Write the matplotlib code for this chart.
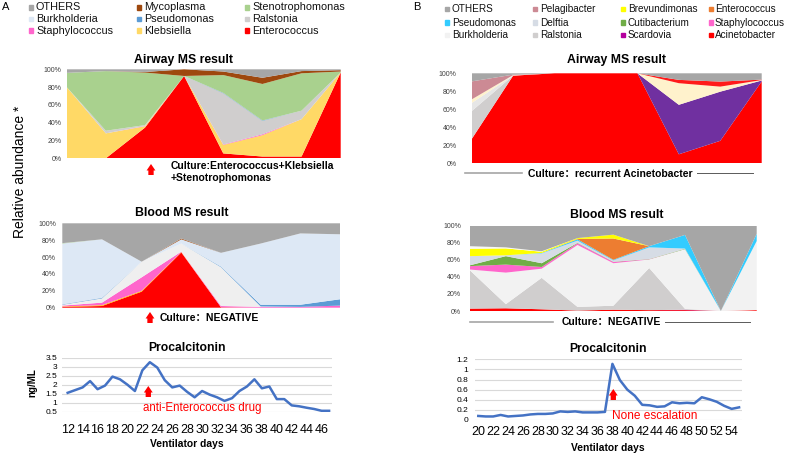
import matplotlib
matplotlib.use('Agg')
import matplotlib.pyplot as plt
from matplotlib.patches import Rectangle
from matplotlib.lines import Line2D

plt.rcParams['font.family'] = ['Liberation Sans', 'Noto Sans CJK SC', 'DejaVu Sans']

W, H = 789, 455

# ---------------- panel A data ----------------
a_order = ['Enterococcus', 'Klebsiella', 'Staphylococcus', 'Ralstonia', 'Pseudomonas',
           'Burkholderia', 'Stenotrophomonas', 'Mycoplasma', 'OTHERS']
a_colors = {'OTHERS': '#a6a6a6', 'Mycoplasma': '#9e480e', 'Stenotrophomonas': '#a9d18e',
            'Burkholderia': '#dde8f5', 'Pseudomonas': '#5b9bd5', 'Ralstonia': '#d0cece',
            'Staphylococcus': '#ff66cc', 'Klebsiella': '#ffd966', 'Enterococcus': '#ff0000'}
a_legend = ['OTHERS', 'Mycoplasma', 'Stenotrophomonas',
            'Burkholderia', 'Pseudomonas', 'Ralstonia',
            'Staphylococcus', 'Klebsiella', 'Enterococcus']

airway_a = {
    'Enterococcus':     [0, 0, 34.5, 92.5, 5.5, 2, 2, 96.5],
    'Klebsiella':       [80, 28, 1.5, 0, 9.5, 24, 42, 0],
    'Staphylococcus':   [0, 0, 0.3, 0, 0.5, 1, 0, 0],
    'Ralstonia':        [0, 3, 1, 0, 57.5, 15, 9.5, 0],
    'Pseudomonas':      [0, 0, 0, 0, 0.5, 0.5, 0, 0],
    'Burkholderia':     [0, 0, 0, 0, 0, 0, 0, 0],
    'Stenotrophomonas': [16, 67, 59, 0, 20, 41, 42, 1],
    'Mycoplasma':       [0, 0, 0.7, 7.5, 4, 7, 2.5, 1.5],
    'OTHERS':           [4, 2, 3, 0, 2.5, 9.5, 2, 1],
}
blood_a = {
    'Enterococcus':     [1, 2, 19, 65.5, 0.5, 0, 0, 0],
    'Klebsiella':       [0.5, 1, 1, 0.5, 0, 0, 0, 0],
    'Staphylococcus':   [1, 3, 16, 0.5, 1.5, 1, 1, 2.5],
    'Ralstonia':        [1, 5, 18.5, 9.5, 46, 0.5, 0, 0],
    'Pseudomonas':      [0.5, 0.7, 0, 0, 0.7, 2, 2.5, 7.5],
    'Burkholderia':     [72, 69.3, 0, 5, 16.3, 72.5, 84.5, 77],
    'Stenotrophomonas': [0.5, 0, 0, 0, 0, 0, 0, 0],
    'Mycoplasma':       [0, 0, 0, 1, 0, 0, 0, 0],
    'OTHERS':           [23.5, 19, 45.5, 18, 35, 24, 12, 13],
}
blood_a_colors = dict(a_colors, Ralstonia='#efefef', Klebsiella='#ffc000')

pct_a_days = list(range(12, 48))
pct_a = [1.55, 1.7, 1.85, 2.2, 1.75, 1.95, 2.45, 2.3, 2.0, 1.65, 2.8, 3.25,
         2.95, 2.25, 1.85, 1.95, 1.6, 1.3, 1.65, 1.45, 1.3, 1.1, 1.25, 1.65,
         1.9, 2.3, 1.8, 1.9, 1.2, 1.2, 0.85, 0.8, 0.72, 0.65, 0.55, 0.55]
pct_a_ticks = list(range(12, 47, 2))
pct_a_yticks = [0.5, 1, 1.5, 2, 2.5, 3, 3.5]
pct_a_ylabels = ['0.5', '1', '1.5', '2', '2.5', '3', '3.5']

# ---------------- panel B data ----------------
b_colors = {'OTHERS': '#a6a6a6', 'Pelagibacter': '#cc8a94', 'Brevundimonas': '#ffff00',
            'Enterococcus': '#ed7d31', 'Pseudomonas': '#33ccff', 'Delftia': '#d6dce5',
            'Cutibacterium': '#70ad47', 'Staphylococcus': '#ff66cc', 'Burkholderia': '#f2f2f2',
            'Ralstonia': '#d0cece', 'Scardovia': '#b4009e', 'Acinetobacter': '#ff0000',
            'Minor': '#f7f7f7'}
b_legend = ['OTHERS', 'Pelagibacter', 'Brevundimonas', 'Enterococcus',
            'Pseudomonas', 'Delftia', 'Cutibacterium', 'Staphylococcus',
            'Burkholderia', 'Ralstonia', 'Scardovia', 'Acinetobacter']

airway_b_order = ['Acinetobacter', 'Scardovia', 'Ralstonia', 'Burkholderia',
                  'Brevundimonas', 'Enterococcus', 'Pelagibacter', 'OTHERS']
airway_b = {
    'Acinetobacter': [27, 97.4, 100, 100, 100, 10, 25, 91],
    'Scardovia':     [0, 0, 0, 0, 0, 55, 54.6, 1],
    'Ralstonia':     [31, 0, 0, 0, 0, 0, 0, 0],
    'Burkholderia':  [9, 0.3, 0, 0, 0, 0, 0, 0],
    'Brevundimonas': [4, 0.3, 0, 0, 0, 24, 5.6, 0.5],
    'Enterococcus':  [0, 0, 0, 0, 0, 3.7, 5.6, 0.5],
    'Pelagibacter':  [20, 0.5, 0, 0, 0, 0, 0, 0],
    'OTHERS':        [9, 1.5, 0, 0, 0, 7.3, 9.2, 7],
}
airway_b_colors = dict(b_colors, Burkholderia='#e6e6e6', Scardovia='#7030a0',
                       Brevundimonas='#fff2cc', Enterococcus='#ff1a1a')

blood_b_order = ['Acinetobacter', 'Scardovia', 'Ralstonia', 'Burkholderia', 'Staphylococcus',
                 'Cutibacterium', 'Delftia', 'Pseudomonas', 'Enterococcus', 'Brevundimonas',
                 'Minor', 'OTHERS']
blood_b = {
    'Acinetobacter':  [2.8, 3.2, 2, 0.5, 1.5, 1, 1, 0, 1],
    'Scardovia':      [0, 0, 0, 0, 0, 0, 0.5, 0, 0],
    'Ralstonia':      [44.8, 4.8, 36.9, 4.3, 4.7, 49.4, 1, 0, 0],
    'Burkholderia':   [1, 37, 10.7, 72.6, 49.8, 10, 70, 0, 81],
    'Staphylococcus': [4, 9.4, 2, 2, 1.5, 0.3, 0, 0, 0],
    'Cutibacterium':  [1, 9.9, 4.4, 0.5, 0.3, 0.3, 0.5, 0, 0],
    'Delftia':        [10.7, 1, 11.5, 2.6, 1.5, 13.6, 0.2, 0, 0],
    'Pseudomonas':    [0, 0, 0.5, 1.5, 0.7, 1.4, 16, 0, 8.5],
    'Enterococcus':   [0, 0, 0, 0.5, 25, 0, 0, 0, 0],
    'Brevundimonas':  [8.7, 8.1, 1.5, 1, 4.5, 0, 0, 0, 0],
    'Minor':          [3, 1.2, 0.5, 0, 0, 0, 0, 0, 0],
    'OTHERS':         [24, 25.4, 30, 14.5, 10.5, 24, 10.8, 100, 9.5],
}

pct_b_days = list(range(20, 56))
pct_b = [0.08, 0.07, 0.07, 0.10, 0.07, 0.08, 0.09, 0.11, 0.12, 0.12, 0.13, 0.17,
         0.16, 0.17, 0.15, 0.15, 0.15, 0.16, 1.11, 0.79, 0.6, 0.48, 0.3, 0.29,
         0.26, 0.27, 0.35, 0.33, 0.34, 0.33, 0.45, 0.41, 0.36, 0.28, 0.22, 0.25]
pct_b_ticks = list(range(20, 55, 2))
pct_b_yticks = [0, 0.2, 0.4, 0.6, 0.8, 1.0, 1.2]
pct_b_ylabels = ['0', '0.2', '0.4', '0.6', '0.8', '1', '1.2']


def fx(x):
    return x / W


def fy(y):
    return 1 - y / H


def box(x0, y0, x1, y1):
    # pixel box (top-left origin) -> figure rect
    return [fx(x0), fy(y1), (x1 - x0) / W, (y1 - y0) / H]


def stacked(rect, data, order, colors, pad):
    ax = fig.add_axes(rect)
    n = len(data[order[0]])
    ax.stackplot(range(n), [data[k] for k in order], colors=[colors[k] for k in order],
                 linewidth=0)
    ax.set_xlim(0, n - 1)
    ax.set_ylim(0, 100)
    ax.set_xticks([])
    ax.set_yticks(range(0, 101, 20))
    ax.set_yticklabels(['%d%%' % v for v in range(0, 101, 20)])
    ax.tick_params(axis='y', length=0, labelsize=5, labelcolor='#404040', pad=pad)
    for s in ax.spines.values():
        s.set_visible(False)
    return ax


def pct(rect, days, vals, ticks, yticks, ylabels, xlim, ylim, xpad, ypad):
    ax = fig.add_axes(rect)
    ax.plot(days, vals, color='#4472c4', lw=1.8)
    ax.set_xlim(*xlim)
    ax.set_ylim(*ylim)
    ax.set_xticks(ticks)
    ax.set_xticklabels([str(t) for t in ticks])
    ax.set_yticks(yticks)
    ax.set_yticklabels(ylabels)
    ax.grid(axis='y', color='#d9d9d9', lw=0.8)
    ax.set_axisbelow(True)
    ax.tick_params(axis='x', length=0, labelsize=9, pad=xpad)
    ax.tick_params(axis='y', length=0, labelsize=6, pad=ypad)
    for s in ax.spines.values():
        s.set_visible(False)
    return ax


def legend(names, colors, xs_sq, xs_txt, ys, ncol, size):
    for i, name in enumerate(names):
        r, c = divmod(i, ncol)
        fig.patches.append(Rectangle((fx(xs_sq[c]), fy(ys[r] + 2.2)), 4.4 / W, 4.4 / H,
                                     color=colors[name], transform=fig.transFigure))
        fig.text(fx(xs_txt[c]), fy(ys[r]), name, fontsize=size, va='center', color='#111111')


def arrow(x, y_top, y_bot):
    fig.add_artist(plt.Annotation('', xy=(fx(x), fy(y_top)), xytext=(fx(x), fy(y_bot)),
                                  xycoords='figure fraction',
                                  arrowprops=dict(arrowstyle='simple,head_length=0.55,head_width=0.75,tail_width=0.45',
                                                  color='red', lw=0, shrinkA=0, shrinkB=0,
                                                  mutation_scale=8.5)))


def hline(x0, x1, y, color, lw):
    fig.add_artist(Line2D([fx(x0), fx(x1)], [fy(y), fy(y)], color=color, lw=lw,
                          transform=fig.transFigure))


fig = plt.figure(figsize=(W / 100, H / 100), dpi=100)

# ---- panel A ----
fig.text(fx(2), fy(7), 'A', fontsize=8, va='center')
legend(a_legend, a_colors, [29, 137, 245], [36, 144, 252], [7.5, 19, 30.5], 3, 7.8)

stacked(box(66.7, 69.3, 340.7, 158.3), airway_a, a_order, a_colors, 3.5)
stacked(box(62.3, 223.3, 340, 307.7), blood_a, a_order, blood_a_colors, 4.5)
pct(box(61.7, 357.7, 331.7, 411.7), pct_a_days, pct_a, pct_a_ticks, pct_a_yticks,
    pct_a_ylabels, (11.2, 47.35), (0.5, 3.5), 9, 3)

fig.text(fx(184), fy(59.5), 'Airway MS result', fontsize=8.8, fontweight='bold', ha='center', va='center')
fig.text(fx(181.7), fy(212.7), 'Blood MS result', fontsize=8.8, fontweight='bold', ha='center', va='center')
fig.text(fx(186.7), fy(348), 'Procalcitonin', fontsize=8.7, fontweight='bold', ha='center', va='center')
fig.text(fx(186.7), fy(444), 'Ventilator days', fontsize=7.4, fontweight='bold', ha='center', va='center')
fig.text(fx(32), fy(383), 'ng/ML', fontsize=7, fontweight='bold', rotation=90, ha='center', va='center')
fig.text(fx(20), fy(172), 'Relative abundance *', fontsize=10, rotation=90, ha='center', va='center')

fig.text(fx(170.7), fy(166), 'Culture:Enterococcus+Klebsiella', fontsize=7.5, fontweight='bold', va='center')
fig.text(fx(170.7), fy(178), '+Stenotrophomonas', fontsize=7.5, fontweight='bold', va='center')
arrow(151, 164, 175)
fig.text(fx(160), fy(317.7), 'Culture：NEGATIVE', fontsize=7.5, fontweight='bold', va='center')
arrow(150, 312, 323)
fig.text(fx(143.3), fy(407.7), 'anti-Enterococcus drug', fontsize=8.3, color='red', va='center')
arrow(148.3, 386, 397)

# ---- panel B ----
fig.text(fx(413), fy(7), 'B', fontsize=8, va='center')
legend(b_legend, b_colors, [445, 533, 621, 709], [452, 540, 628, 715], [9, 22.5, 35], 4, 7.2)

stacked(box(471.7, 73.3, 761.7, 163.3), airway_b, airway_b_order, airway_b_colors, 11)
stacked(box(470, 225.7, 756.7, 311), blood_b, blood_b_order, b_colors, 6.5)
pct(box(475, 359.3, 741.7, 420), pct_b_days, pct_b, pct_b_ticks, pct_b_yticks,
    pct_b_ylabels, (19.56, 55.35), (0, 1.2), 4, 5)

fig.text(fx(616.7), fy(59.5), 'Airway MS result', fontsize=8.8, fontweight='bold', ha='center', va='center')
fig.text(fx(616.7), fy(215), 'Blood MS result', fontsize=8.8, fontweight='bold', ha='center', va='center')
fig.text(fx(608), fy(349.3), 'Procalcitonin', fontsize=8.7, fontweight='bold', ha='center', va='center')
fig.text(fx(608), fy(447.7), 'Ventilator days', fontsize=7.4, fontweight='bold', ha='center', va='center')

fig.text(fx(528.3), fy(174), 'Culture：recurrent Acinetobacter', fontsize=7.5, fontweight='bold', va='center')
hline(465, 521.7, 172.7, '#a6a6a6', 1.2)
hline(696.7, 753.3, 173, '#595959', 0.7)
fig.text(fx(561.7), fy(321.7), 'Culture：NEGATIVE', fontsize=7.5, fontweight='bold', va='center')
hline(470, 553.3, 321.7, '#a6a6a6', 1.2)
hline(665, 750, 322, '#595959', 0.7)
fig.text(fx(611.7), fy(416), 'None escalation', fontsize=8.6, color='red', va='center')
arrow(613.3, 389, 400)

fig.savefig('out.png', dpi=100)
